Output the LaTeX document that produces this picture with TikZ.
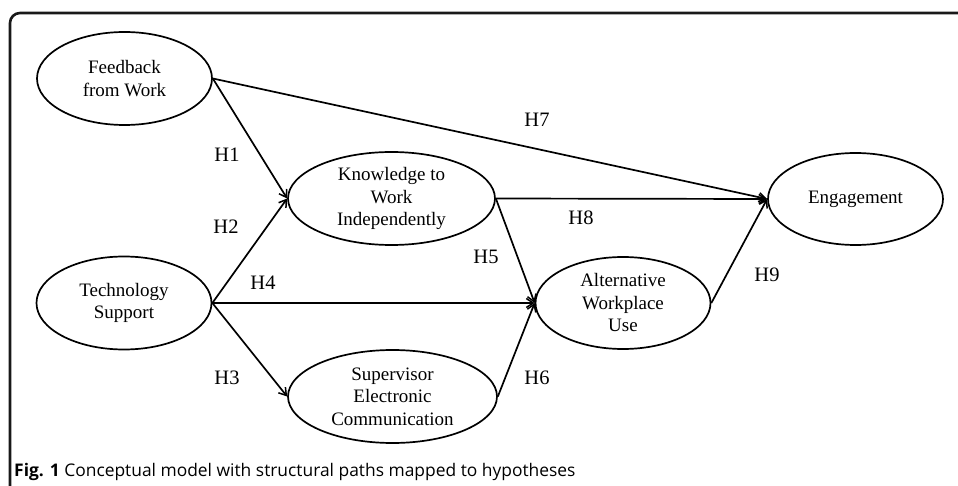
\documentclass[tikz,border=0pt]{standalone}
\usepackage{fontspec}
\setmainfont{Liberation Serif}
\newfontfamily\capfont{Open Sans}
\usetikzlibrary{shapes.geometric,arrows.meta}

\begin{document}
\begin{tikzpicture}[x=1pt,y=1pt,
    construct/.style={draw,ellipse,line width=1.7pt,inner sep=0pt,align=center,
      minimum width=175pt,minimum height=93pt,
      font=\fontsize{19}{22.5}\selectfont},
    wide/.style={construct,minimum width=207pt},
    hyp/.style={line width=1.7pt,-{Straight Barb[length=7pt,width=9pt,line width=1.5pt]}},
    hlabel/.style={font=\fontsize{20.5}{22}\selectfont}]
            \useasboundingbox (0,0) rectangle (958,485);
            \draw[line width=2.6pt,color=black!90,rounded corners=10pt] (10,-5) -- (10,472) -- (965,472);
            % constructs
            \node[construct] (feedback) at (124.5,406.5) {Feedback\\from Work};
            \node[construct] (tech) at (124,182) {Technology\\Support};
            \node[wide] (know) at (391.5,286.5) {Knowledge to\\Work\\Independently};
            \node[wide,minimum width=209pt] (superv) at (392.5,88.5) {Supervisor\\Electronic\\Communication};
            \node[construct,minimum height=92pt] (altwork) at (623,182) {Alternative\\Workplace\\Use};
            \node[construct,minimum height=92pt] (engage) at (855.5,286) {Engagement};
            % paths
            \draw[hyp] (feedback.east) -- (know.west);
            \draw[hyp] (feedback.east) -- (engage.west);
            \draw[hyp] (tech.east) -- (know.west);
            \draw[hyp] (tech.east) -- (altwork.west);
            \draw[hyp] (tech.east) -- (superv.west);
            \draw[hyp] (know.east) -- (engage.west);
            \draw[hyp] (know.east) -- (altwork.west);
            \draw[hyp] (superv.east) -- (altwork.west);
            \draw[hyp] (altwork.east) -- (engage.west);
            % hypotheses
            \node[hlabel] (h1) at (227,330) {H1};
            \node[hlabel] (h2) at (226,258) {H2};
            \node[hlabel] (h3) at (227,107) {H3};
            \node[hlabel] (h4) at (263,202) {H4};
            \node[hlabel] (h5) at (486,228) {H5};
            \node[hlabel] (h6) at (537,107) {H6};
            \node[hlabel] (h7) at (537,365) {H7};
            \node[hlabel] (h8) at (581,267) {H8};
            \node[hlabel] (h9) at (767,210) {H9};
            \node[anchor=west,inner sep=0pt,font=\capfont\fontsize{17.4}{20}\selectfont] (caption) at (14,13)
              {\textbf{Fig. 1} Conceptual model with structural paths mapped to hypotheses};
        \end{tikzpicture}
\end{document}
